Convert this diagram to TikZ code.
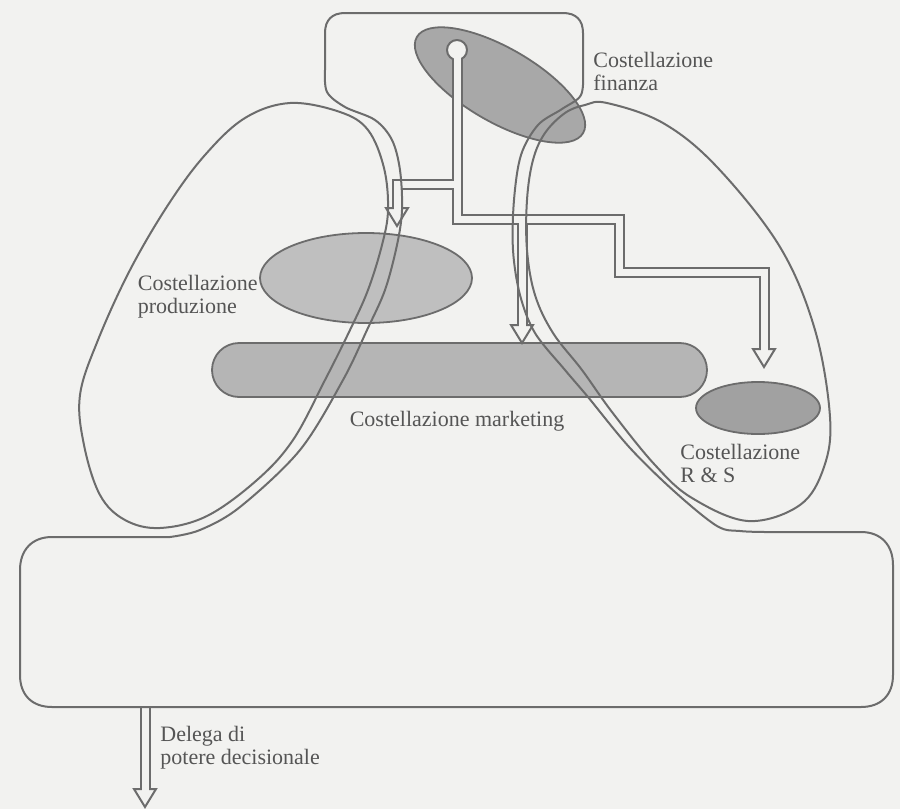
\documentclass[tikz,border=0pt]{standalone}
\usepackage{fontspec}
\setmainfont{Liberation Serif}
\usetikzlibrary{positioning, shapes.geometric, calc}
\definecolor{paper}{HTML}{F2F2F0}
\definecolor{ink}{HTML}{6C6C6C}
\definecolor{txt}{HTML}{555555}
% tube arrows from the finance keyhole, drawn once per pass
\newcommand{\fintubes}[1]{%
  \draw[#1] (key) -- (jR) -| (619,272) -| ($(tipR)+(0,-18)$);
  \draw[#1] (jL) -| ($(tipL)+(0,-18)$);
  \draw[#1] (tipM |- jR) -- ($(tipM)+(0,-18)$);
  \draw[#1] (dlg) -- ($(tipD)+(0,-18)$);}
\begin{document}
\begin{tikzpicture}[x=0.5pt, y=-0.5pt, line join=round,
  outl/.style={draw=ink, line width=1pt},
  constel/.style={ellipse, draw=ink, line width=0.9pt, inner sep=0pt},
  tubeout/.style={draw=ink, line width=5.5pt, line join=miter},
  tubein/.style={draw=paper, line width=3.5pt, line join=miter, shorten >=-1.5pt},
  head/.style={draw=ink, fill=paper, line width=1pt, line join=miter},
  lbl/.style={text=txt, font=\fontsize{11}{11.5}\selectfont, align=left, inner sep=0pt}]

\useasboundingbox[fill=paper] (0,0) rectangle (900,809);

% constellations
\node[constel, fill=black!34, minimum width=96pt, minimum height=37pt, rotate=-30] (fin) at (500,85) {};
\node[constel, fill=black!25, minimum width=106pt, minimum height=45pt] (prod) at (366,278) {};
\node[draw=ink, line width=0.9pt, fill=black!29, rounded corners=13.5pt,
      minimum width=247.5pt, minimum height=27pt, inner sep=0pt] (mkt) at (459.5,370) {};
\node[constel, fill=black!37, minimum width=62pt, minimum height=26pt] (rs) at (758,408) {};

\node[lbl, anchor=west] (finlbl) at (593,71) {Costellazione\\finanza};
\node[lbl, anchor=east] (prodlbl) at (258,297) {Costellazione\\produzione};
\node[lbl] (mktlbl) at (457,421) {Costellazione marketing};
\node[lbl, anchor=west] (rslbl) at (680,463) {Costellazione\\R \& S};
\node[lbl, anchor=west] (dlglbl) at (160,748) {Delega di\\potere decisionale};

% arrow system
\coordinate (key) at (457,50);
\coordinate (jL) at (457,184);
\coordinate (jR) at (457,219);
\coordinate (tipL) at (397,226);
\coordinate (tipM) at (522,343);
\coordinate (tipR) at (764,367);
\coordinate (tipD) at (145,807);
\coordinate (dlg) at (145,707);

\fintubes{tubeout}
\foreach \t in {tipL,tipM,tipR,tipD}
  \draw[head] ($(\t)+(-11,-18)$) -- (\t) -- ($(\t)+(11,-18)$) -- cycle;
\draw[draw=ink, fill=paper, line width=1pt] (key) circle (10);
\fintubes{tubein}

% lobes
\draw[outl] plot[smooth cycle, tension=0.6] coordinates {(290,103) (340,112) (368,130)
  (384,168) (388,210) (382,245) (368,290) (350,330) (325,380) (293,440) (257,480)
  (207,516) (160,528) (125,520) (100,495) (84,445) (80,395) (98,340) (130,270)
  (168,205) (205,155) (245,118)};
\draw[outl] plot[smooth cycle, tension=0.6] coordinates {(607,103) (663,123) (717,167)
  (780,247) (815,330) (830,417) (824,467) (800,505) (748,521) (692,498) (655,465)
  (612,412) (582,370) (553,333) (535,295) (527,250) (527,200) (533,160) (545,133)
  (565,113) (585,105)};

% organisation outline
\draw[outl] plot[smooth, tension=0.55] coordinates {(325,70) (327,92) (345,107) (375,120)
    (392,140) (400,170) (402,210) (397,245) (385,290) (367,330) (343,380) (300,450)
    (240,507) (200,530) (170,537)}
  -- (52,537) .. controls (32,537) and (20,550) .. (20,570)
  -- (20,675) .. controls (20,695) and (32,707) .. (52,707)
  -- (861,707) .. controls (881,707) and (893,695) .. (893,675)
  -- (893,565) .. controls (893,545) and (881,532) .. (861,532)
  -- plot[smooth, tension=0.55] coordinates {(765,532) (740,531) (717,526) (675,492)
    (630,448) (588,397) (565,370) (535,333) (520,295) (513,250) (514,200) (521,155)
    (538,125) (562,109) (581,95) (583,70)}
  -- (583,33) .. controls (583,20) and (576,13) .. (563,13)
  -- (345,13) .. controls (332,13) and (325,20) .. (325,33) -- cycle;
\end{tikzpicture}
\end{document}
